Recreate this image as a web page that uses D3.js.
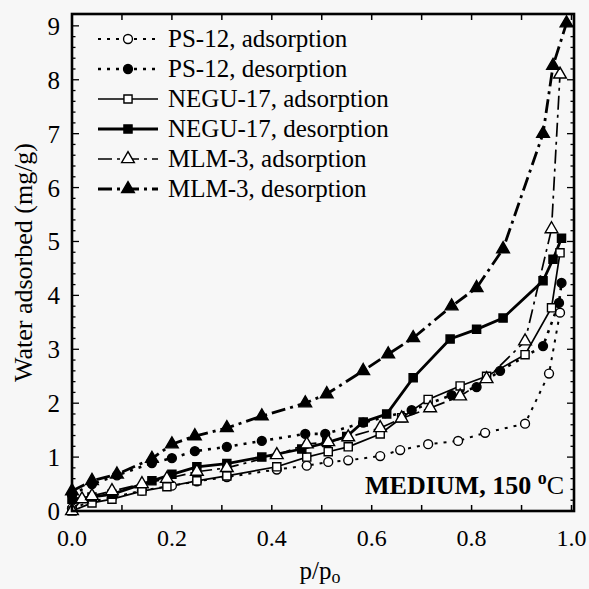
<!DOCTYPE html>
<html>
<head>
<meta charset="utf-8">
<script src="https://cdn.jsdelivr.net/npm/d3@7"></script>
<style>
  body { margin: 0; background: #f7f7f7; }
  svg { display: block; }
  text { font-family: "Liberation Serif", "Times New Roman", serif; fill: #000; }
</style>
</head>
<body>
<div id="chart"></div>
<script>
// series names (legend order)
var seriesNames = ["PS-12, adsorption", "PS-12, desorption", "NEGU-17, adsorption",
                   "NEGU-17, desorption", "MLM-3, adsorption", "MLM-3, desorption"];

// p/po values and water adsorbed (mg/g)
var psAdsX = [0, 0.04, 0.08, 0.14, 0.2, 0.25, 0.31, 0.41, 0.47, 0.513, 0.553, 0.617, 0.657, 0.713, 0.773, 0.827, 0.907, 0.955, 0.977];
var psAdsY = [0.05, 0.18, 0.25, 0.38, 0.47, 0.55, 0.63, 0.77, 0.84, 0.91, 0.94, 1.02, 1.13, 1.24, 1.3, 1.45, 1.62, 2.55, 3.68];

var psDesX = [0, 0.04, 0.09, 0.16, 0.2, 0.246, 0.31, 0.38, 0.467, 0.507, 0.583, 0.68, 0.76, 0.81, 0.857, 0.943, 0.975, 0.98];
var psDesY = [0.3, 0.5, 0.66, 0.89, 0.98, 1.11, 1.19, 1.3, 1.43, 1.43, 1.64, 1.87, 2.15, 2.3, 2.6, 3.06, 3.86, 4.23];

var neguAdsX = [0, 0.04, 0.08, 0.14, 0.19, 0.25, 0.31, 0.41, 0.47, 0.513, 0.553, 0.617, 0.66, 0.713, 0.777, 0.83, 0.907, 0.96, 0.977];
var neguAdsY = [0.0, 0.15, 0.22, 0.37, 0.45, 0.56, 0.65, 0.82, 1.0, 1.1, 1.19, 1.43, 1.73, 2.07, 2.32, 2.5, 2.9, 3.77, 4.79];

var neguDesX = [0, 0.04, 0.08, 0.16, 0.2, 0.25, 0.31, 0.38, 0.46, 0.51, 0.55, 0.583, 0.63, 0.683, 0.757, 0.81, 0.863, 0.943, 0.963, 0.98];
var neguDesY = [0.22, 0.26, 0.31, 0.56, 0.68, 0.82, 0.88, 1.0, 1.15, 1.27, 1.38, 1.65, 1.8, 2.47, 3.19, 3.37, 3.58, 4.27, 4.67, 5.06];

var mlmAdsX = [0, 0.02, 0.04, 0.08, 0.14, 0.19, 0.25, 0.31, 0.41, 0.47, 0.513, 0.553, 0.617, 0.66, 0.717, 0.777, 0.83, 0.907, 0.96, 0.977];
var mlmAdsY = [0.0, 0.22, 0.28, 0.37, 0.5, 0.6, 0.73, 0.8, 1.04, 1.24, 1.28, 1.37, 1.54, 1.72, 1.91, 2.13, 2.45, 3.15, 5.23, 8.1];

var mlmDesX = [0, 0.04, 0.09, 0.16, 0.2, 0.246, 0.31, 0.38, 0.467, 0.51, 0.583, 0.633, 0.683, 0.76, 0.81, 0.863, 0.943, 0.963, 0.99];
var mlmDesY = [0.37, 0.56, 0.68, 0.97, 1.24, 1.39, 1.54, 1.76, 2.0, 2.17, 2.6, 2.91, 3.21, 3.8, 4.14, 4.86, 7.0, 8.26, 9.05];

var xTickLabels = ["0.0", "0.2", "0.4", "0.6", "0.8", "1.0"];
var yTickLabels = ["0", "1", "2", "3", "4", "5", "6", "7", "8", "9"];

// marker shape, filled or not, line dash, line width
var styles = [
    {shape: "circle",   fill: false, dash: "3,6",       width: 2},
    {shape: "circle",   fill: true,  dash: "3,6",       width: 2.6},
    {shape: "square",   fill: false, dash: null,        width: 1.7},
    {shape: "square",   fill: true,  dash: null,        width: 2.8},
    {shape: "triangle", fill: false, dash: "14,5,3,5",  width: 1.7},
    {shape: "triangle", fill: true,  dash: "14,5,3,5",  width: 2.8}
];

var allX = [psAdsX, psDesX, neguAdsX, neguDesX, mlmAdsX, mlmDesX];
var allY = [psAdsY, psDesY, neguAdsY, neguDesY, mlmAdsY, mlmDesY];

var width = 589, height = 589;
var plotLeft = 72, plotRight = 574, plotTop = 14, plotBottom = 511;

var xScale = d3.scaleLinear([0, 1.005], [plotLeft, plotRight]);
var yScale = d3.scaleLinear([0, 9.22], [plotBottom, plotTop]);

var svg = d3.select("#chart").append("svg")
    .attr("width", width)
    .attr("height", height);

svg.append("rect").attr("width", width).attr("height", height).attr("fill", "#f7f7f7");

var symbols = {circle: d3.symbolCircle, square: d3.symbolSquare, triangle: d3.symbolTriangle};
var sizes = {circle: 62, square: 66, triangle: 70};

function drawMarker(g, st, x, y) {
    g.append("path")
        .attr("d", d3.symbol(symbols[st.shape], sizes[st.shape])())
        .attr("transform", "translate(" + x + "," + y + ")")
        .attr("fill", st.fill ? "#000" : "#fff")
        .attr("stroke", "#000")
        .attr("stroke-width", 1.4);
}

// series
var line = d3.line().x(d => xScale(d[0])).y(d => yScale(d[1]));
var seriesG = svg.append("g");
allX.forEach(function(xs, s) {
    var pts = xs.map((x, i) => [x, allY[s][i]]);
    var st = styles[s];
    seriesG.append("path")
        .datum(pts)
        .attr("d", line)
        .attr("fill", "none")
        .attr("stroke", "#000")
        .attr("stroke-width", st.width)
        .attr("stroke-dasharray", st.dash);
});
allX.forEach(function(xs, s) {
    xs.forEach(function(x, i) {
        drawMarker(seriesG, styles[s], xScale(x), yScale(allY[s][i]));
    });
});

// frame and ticks (inward)
var axisG = svg.append("g").attr("stroke", "#000");
axisG.append("rect")
    .attr("x", plotLeft).attr("y", plotTop)
    .attr("width", plotRight - plotLeft).attr("height", plotBottom - plotTop)
    .attr("fill", "none").attr("stroke-width", 2.6);

d3.range(0, 1.001, 0.1).forEach(function(t) {
    var x = xScale(t);
    axisG.append("line").attr("x1", x).attr("x2", x).attr("y1", plotBottom).attr("y2", plotBottom - 6).attr("stroke-width", 1.5);
    axisG.append("line").attr("x1", x).attr("x2", x).attr("y1", plotTop).attr("y2", plotTop + 6).attr("stroke-width", 1.5);
});
d3.range(0, 9.2, 0.2).forEach(function(t) {
    var y = yScale(t);
    var major = Math.abs(t - Math.round(t)) < 1e-6;
    var len = major ? 7 : 3.5;
    axisG.append("line").attr("x1", plotLeft).attr("x2", plotLeft + len).attr("y1", y).attr("y2", y).attr("stroke-width", 1.3);
    axisG.append("line").attr("x1", plotRight).attr("x2", plotRight - len).attr("y1", y).attr("y2", y).attr("stroke-width", 1.3);
});

// tick labels
svg.append("g").selectAll("text").data(xTickLabels).join("text")
    .attr("x", d => xScale(+d))
    .attr("y", 546)
    .attr("text-anchor", "middle")
    .attr("font-size", 24)
    .text(d => d);

svg.append("g").selectAll("text").data(yTickLabels).join("text")
    .attr("x", 60)
    .attr("y", d => yScale(+d) + 9)
    .attr("text-anchor", "end")
    .attr("font-size", 25)
    .text(d => d);

// axis titles
var xt = svg.append("text").attr("x", 320).attr("y", 579).attr("text-anchor", "middle").attr("font-size", 25);
xt.append("tspan").text("p/p");
xt.append("tspan").attr("font-size", 18).attr("dy", 4).text("o");

svg.append("text")
    .attr("transform", "translate(32," + ((plotTop + plotBottom) / 2) + ") rotate(-90)")
    .attr("text-anchor", "middle")
    .attr("font-size", 26)
    .text("Water adsorbed (mg/g)");

// legend
var legend = svg.append("g");
seriesNames.forEach(function(name, s) {
    var y = 39 + s * 30;
    var st = styles[s];
    legend.append("line")
        .attr("x1", 98).attr("x2", 158).attr("y1", y).attr("y2", y)
        .attr("stroke", "#000")
        .attr("stroke-width", st.width)
        .attr("stroke-dasharray", st.dash);
    drawMarker(legend, st, 128, y);
    legend.append("text")
        .attr("x", 168).attr("y", y + 8)
        .attr("font-size", 25)
        .text(name);
});

// condition label
var ml = svg.append("text").attr("x", 564).attr("y", 494).attr("text-anchor", "end").attr("font-size", 26);
ml.append("tspan").attr("font-weight", "bold").text("MEDIUM, 150 ");
ml.append("tspan").attr("font-weight", "bold").attr("font-size", 18).attr("dy", -10).text("o");
ml.append("tspan").attr("dy", 10).text("C");
</script>
</body>
</html>
